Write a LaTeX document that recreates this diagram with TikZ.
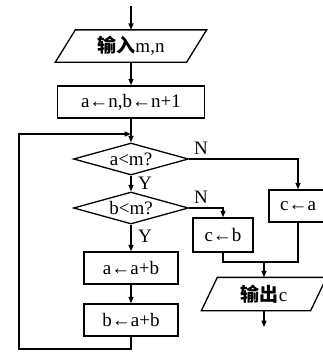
\documentclass[tikz,border=0pt]{standalone}
\usepackage{fontspec}
\setmainfont{Liberation Serif}
\newfontfamily\cjk{Noto Sans CJK SC}
\usetikzlibrary{shapes.geometric,arrows.meta}
\begin{document}
\begin{tikzpicture}[x=1pt,y=-1pt,
  line width=1.3pt,
  font=\fontsize{19}{21}\selectfont,
  flow/.style={-{Triangle[length=6.5pt,width=5pt]}},
  box/.style={draw, rectangle, inner sep=0pt, minimum height=32pt},
  iobox/.style={inner sep=0pt, minimum height=31pt},
  cond/.style={draw, diamond, inner sep=0pt, minimum width=115pt, minimum height=32pt, aspect=3.6},
  lbl/.style={inner sep=0pt}]
\useasboundingbox (0,0) rectangle (323,356);
\clip (0,0) rectangle (323,356);

% nodes
\coordinate (s) at (131,6);
\node[iobox, minimum width=130pt] (in) at (131,46) {{\cjk\bfseries 输入}m,n};
\draw ([xshift=10pt]in.north west) -- ([xshift=10pt]in.north east)
      -- ([xshift=-10pt]in.south east) -- ([xshift=-10pt]in.south west) -- cycle;
\node[box, minimum width=147pt] (init) at (131,102) {a←n,b←n+1};
\coordinate (j) at (131,134);
\node[cond] (d1) at (131,159) {a<m?};
\node[cond] (d2) at (131,208) {b<m?};
\node[box, minimum width=94pt] (s1) at (131,268) {a←a+b};
\node[box, minimum width=94pt] (s2) at (131,320) {b←a+b};
\node[box, minimum width=58pt] (ca) at (298,206) {c←a};
\node[box, minimum width=60pt, minimum height=34pt] (cb) at (223,235) {c←b};
\node[iobox, minimum width=108pt, minimum height=32pt] (out) at (264,294) {{\cjk\bfseries 输出}c};
\draw ([xshift=8pt]out.north west) -- ([xshift=8pt]out.north east)
      -- ([xshift=-8pt]out.south east) -- ([xshift=-8pt]out.south west) -- cycle;
\coordinate (m) at (264,262);
\coordinate (e) at (264,327);
\coordinate (lb) at (19,349);

% labels
\node[lbl] (y1) at (145,183) {Y};
\node[lbl] (y2) at (145,236) {Y};
\node[lbl] (n1) at (201,148) {N};
\node[lbl] (n2) at (201,197) {N};

% connectors
\draw[flow] (s) -- (in.north);
\draw[flow] (in.south) -- (init.north);
\draw[flow] (init.south) -- (d1.north);
\draw[flow] (d1.south) -- (d2.north);
\draw[flow] (d2.south) -- (s1.north);
\draw[flow] (s1.south) -- (s2.north);
\draw[flow] (s2.south) |- (lb) |- (j);
\draw[flow] (d1.east) -| (ca.north);
\draw[flow] (d2.east) -| (cb.north);
\draw (cb.south) |- (m);
\draw (ca.south) |- (m);
\draw[flow] (m) -- (out.north);
\draw[flow] (out.south) -- (e);
\end{tikzpicture}
\end{document}
